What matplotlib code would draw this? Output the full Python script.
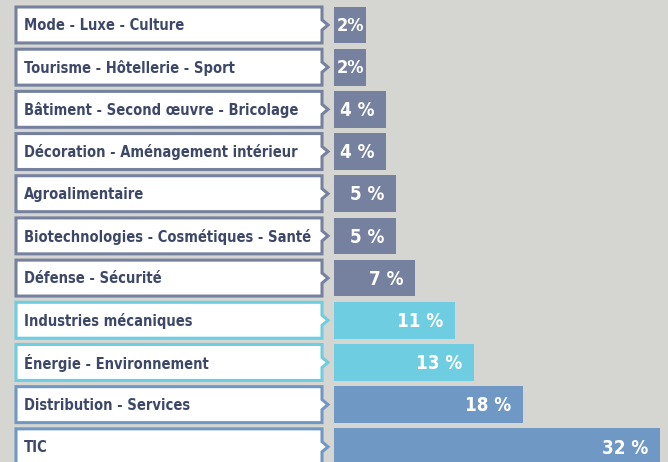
import matplotlib
matplotlib.use("Agg")
import matplotlib.pyplot as plt
from matplotlib.patches import Polygon

# secteurs, du haut vers le bas
sectors = [
    "Mode - Luxe - Culture",
    "Tourisme - Hôtellerie - Sport",
    "Bâtiment - Second œuvre - Bricolage",
    "Décoration - Aménagement intérieur",
    "Agroalimentaire",
    "Biotechnologies - Cosmétiques - Santé",
    "Défense - Sécurité",
    "Industries mécaniques",
    "Énergie - Environnement",
    "Distribution - Services",
    "TIC",
]
values = [2, 2, 4, 4, 5, 5, 7, 11, 13, 18, 32]
value_labels = ["2%", "2%", "4 %", "4 %", "5 %", "5 %", "7 %",
                "11 %", "13 %", "18 %", "32 %"]
groups = [0, 0, 0, 0, 0, 0, 0, 1, 1, 2, 2]

group_colors = ["#75819e", "#6ecde0", "#7098c5"]
bg = "#d5d5d1"
text_col = "#3d4868"

W, H = 668, 462
fig = plt.figure(figsize=(W / 100, H / 100), dpi=100, facecolor=bg)

split = 334
ylim = (10.36, -0.592)
half = 0.426

# boxes with labels
ax_lab = fig.add_axes([0, 0, split / W, 1])
ax_lab.set_xlim(0, split)
ax_lab.set_ylim(*ylim)
ax_lab.axis("off")
for i, (name, g) in enumerate(zip(sectors, groups)):
    top, bot = i - half, i + half
    pts = [(16, top), (322, top), (322, i - 0.12), (328, i),
           (322, i + 0.12), (322, bot), (16, bot)]
    ax_lab.add_patch(Polygon(pts, closed=True, facecolor="white",
                             edgecolor=group_colors[g], linewidth=2.2,
                             joinstyle="miter"))
    ax_lab.text(24, i + 0.02, name, family="DejaVu Sans", stretch="condensed",
                weight="bold", fontsize=10.5, color=text_col,
                va="center", ha="left")

# bars
ax = fig.add_axes([split / W, 0, 1 - split / W, 1])
start = -1.3
ax.set_xlim(start, start + (W - split) / 9.8)
ax.set_ylim(*ylim)
ax.axis("off")
ypos = list(range(len(values)))
ax.barh(ypos, [v - start for v in values], left=start, height=2 * half + 0.02,
        color=[group_colors[g] for g in groups])
for y, v, lab in zip(ypos, values, value_labels):
    if v < 3:
        ax.text((start + v) / 2, y + 0.03, lab, family="DejaVu Sans",
                stretch="condensed", weight="bold", fontsize=13,
                color="white", ha="center", va="center")
    else:
        ax.text(v - 1.2, y + 0.03, lab, family="DejaVu Sans",
                stretch="condensed", weight="bold", fontsize=13.5,
                color="white", ha="right", va="center")

fig.savefig("out.png", dpi=100, facecolor=bg)
